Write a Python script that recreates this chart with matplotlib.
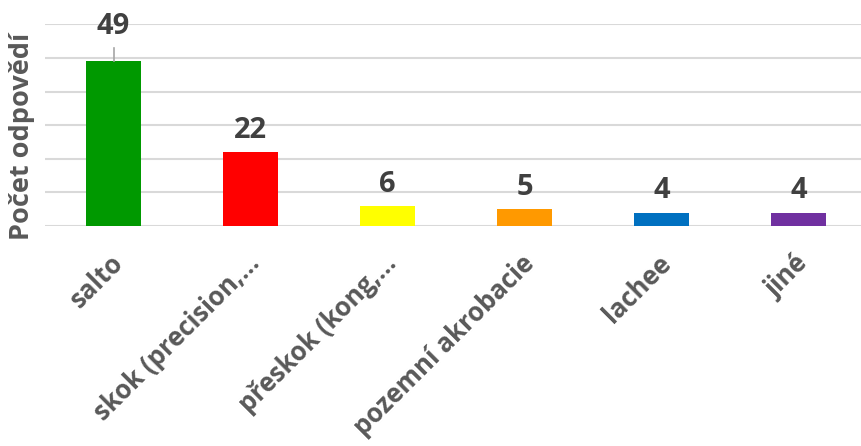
import matplotlib.pyplot as plt
import matplotlib.transforms as mtransforms
import numpy as np

plt.rcParams['font.family'] = ['Open Sans', 'DejaVu Sans']

categories = ['salto', 'skok (precision,…', 'přeskok (kong,…', 'pozemní akrobacie', 'lachee', 'jiné']
counts = [49, 22, 6, 5, 4, 4]
colors = ['#009900', '#ff0000', '#ffff00', '#ff9900', '#0070c0', '#7030a0']

W, H = 861, 446
fig = plt.figure(figsize=(W / 100, H / 100), dpi=100)
# plot area runs a little past the right edge, like the source chart
ax = fig.add_axes([45 / W, (H - 226) / H, 822 / W, (226 - 24.4) / H])

x = np.arange(len(categories))
ax.bar(x, counts, width=0.4, color=colors, zorder=3)

ax.set_xlim(-0.5, len(categories) - 0.5)
ax.set_ylim(0, 60)
ax.set_yticks(np.arange(0, 61, 10))
ax.yaxis.grid(True, color='#d9d9d9', linewidth=1.5, zorder=0)
ax.set_yticklabels([])
ax.tick_params(axis='both', length=0)
ax.tick_params(axis='x', pad=17)
for s in ax.spines.values():
    s.set_visible(False)

ax.set_xticks(x)
ax.set_xticklabels(categories, rotation=45, ha='right', rotation_mode='default',
                   fontsize=18.5, fontweight='bold', color='#595959')
shift = mtransforms.ScaledTranslation(15 / 100, 0, fig.dpi_scale_trans)
for lbl in ax.get_xticklabels():
    lbl.set_transform(lbl.get_transform() + shift)

# value labels above bars; the tallest one sits higher with a leader line
for i, v in enumerate(counts):
    if i == 0:
        ax.plot([i, i], [v, v + 4], color='#a6a6a6', linewidth=1.2, zorder=4, clip_on=False)
        ax.text(i, v + 10.5, str(v), ha='center', va='center', fontsize=21,
                fontweight='bold', color='#404040')
    else:
        ax.text(i, v + 6.5, str(v), ha='center', va='center', fontsize=21,
                fontweight='bold', color='#404040')

fig.text(22 / W, (H - 136) / H, 'Počet odpovědí', rotation=90, ha='center', va='center',
         fontsize=19.5, fontweight='bold', color='#595959')

fig.savefig('out.png', dpi=100)
